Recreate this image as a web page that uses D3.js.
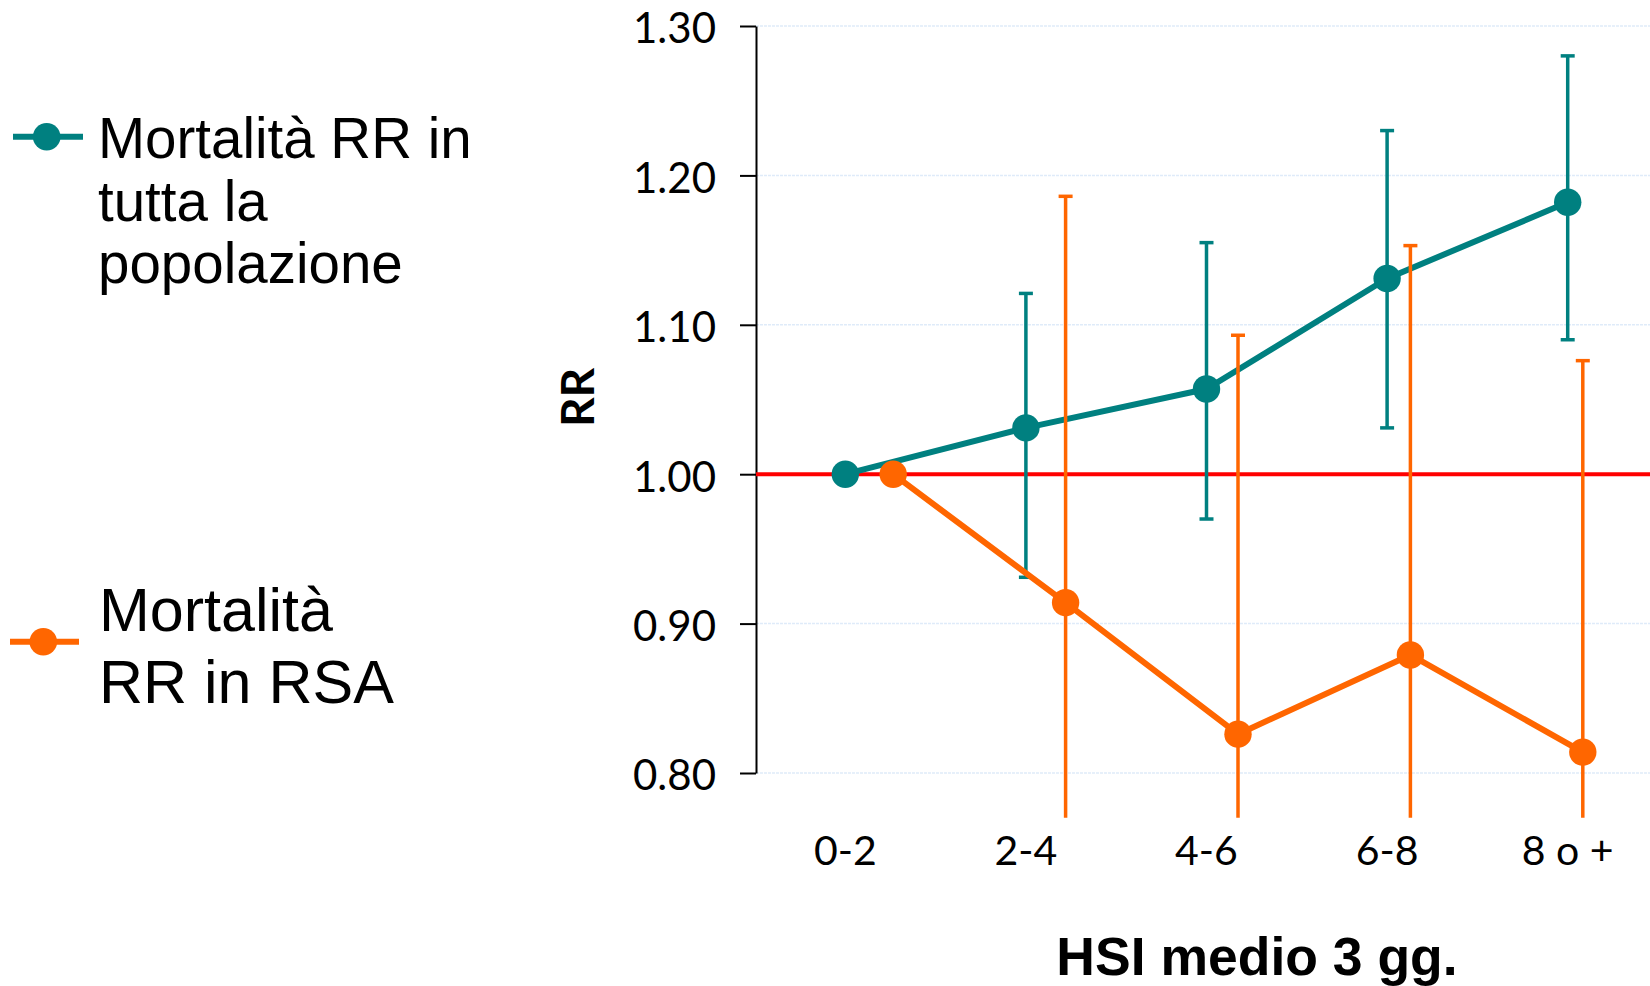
<!DOCTYPE html>
<html><head><meta charset="utf-8">
<script src="https://cdn.jsdelivr.net/npm/d3@7"></script>
<style>html,body{margin:0;padding:0;background:#fff;} svg{display:block;}</style>
</head><body>
<svg id="chart" width="1650" height="986"></svg>
<script>
const categories = ["0-2", "2-4", "4-6", "6-8", "8 o +"];
const yTicks = [0.80, 0.90, 1.00, 1.10, 1.20, 1.30];
const popRR   = [1.000, 1.031, 1.057, 1.131, 1.182];
const popLow  = [null, 0.931, 0.970, 1.031, 1.090];
const popHigh = [null, 1.121, 1.155, 1.230, 1.280];
const rsaRR   = [1.000, 0.914, 0.826, 0.879, 0.814];
const rsaLow  = [null, 0.704, 0.624, 0.671, 0.616];
const rsaHigh = [null, 1.186, 1.093, 1.153, 1.076];
const legendPop = ["Mortalità RR in", "tutta la", "popolazione"];
const legendRsa = ["Mortalità", "RR in RSA"];
const yTitle = "RR";
const xTitle = "HSI medio 3 gg.";
const refValue = 1.00;
const clipMin = 0.77;

const TEAL = "#008080", ORANGE = "#ff6600", RED = "#ff0000";
const svg = d3.select("#chart");
const y = d3.scaleLinear().domain([0.80, 1.30]).range([773, 26]);
const xPop = d3.scaleBand().domain(categories).range([755, 1658]);
const xRsa = d3.scaleBand().domain(categories).range([807, 1669]);
const cx = (s, c) => s(c) + s.bandwidth() / 2;
const axisX = 756;

svg.append("defs").append("clipPath").attr("id", "plotclip")
  .append("rect").attr("x", axisX).attr("y", 0).attr("width", 1650 - axisX).attr("height", y(clipMin));

// gridlines
svg.append("g").selectAll("line").data(yTicks).join("line")
  .attr("x1", axisX).attr("x2", 1650)
  .attr("y1", d => y(d)).attr("y2", d => y(d))
  .attr("stroke", "#dfebf9").attr("stroke-width", 1.5).attr("stroke-dasharray", "3,1");

// y axis
const yAxis = svg.append("g").attr("transform", `translate(${axisX},0)`)
  .call(d3.axisLeft(y).tickValues(yTicks).tickFormat(d3.format(".2f")).tickSize(16).tickSizeOuter(0).tickPadding(24));
yAxis.select(".domain").attr("stroke", "#000").attr("stroke-width", 2);
yAxis.selectAll(".tick line").attr("stroke", "#000").attr("stroke-width", 2);
yAxis.selectAll(".tick text").attr("font-family", "Lato, 'Open Sans', sans-serif")
  .attr("font-size", 42).attr("fill", "#000").attr("dy", "0.4em");

// reference line
svg.append("line").attr("x1", axisX).attr("x2", 1650)
  .attr("y1", y(refValue)).attr("y2", y(refValue))
  .attr("stroke", RED).attr("stroke-width", 4);

function drawSeries(xs, vals, lows, highs, color) {
  const g = svg.append("g").attr("clip-path", "url(#plotclip)");
  const pts = categories.map((c, i) => ({c, v: vals[i], lo: lows[i], hi: highs[i]}));
  g.append("path").datum(pts)
    .attr("d", d3.line().x(d => cx(xs, d.c)).y(d => y(d.v)))
    .attr("fill", "none").attr("stroke", color).attr("stroke-width", 6).attr("stroke-linejoin", "round");
  const eb = pts.filter(d => d.lo != null);
  g.selectAll(".eb").data(eb).join("line")
    .attr("x1", d => cx(xs, d.c)).attr("x2", d => cx(xs, d.c))
    .attr("y1", d => y(d.lo)).attr("y2", d => y(d.hi))
    .attr("stroke", color).attr("stroke-width", 3.5);
  ["lo", "hi"].forEach(k => {
    g.selectAll(".cap" + k).data(eb).join("line")
      .attr("x1", d => cx(xs, d.c) - 7).attr("x2", d => cx(xs, d.c) + 7)
      .attr("y1", d => y(d[k])).attr("y2", d => y(d[k]))
      .attr("stroke", color).attr("stroke-width", 3.5);
  });
  g.selectAll("circle").data(pts).join("circle")
    .attr("cx", d => cx(xs, d.c)).attr("cy", d => y(d.v)).attr("r", 13.7)
    .attr("fill", color);
}
drawSeries(xPop, popRR, popLow, popHigh, TEAL);
drawSeries(xRsa, rsaRR, rsaLow, rsaHigh, ORANGE);

// x labels
svg.append("g").selectAll("text").data(categories).join("text")
  .attr("x", d => cx(xPop, d)).attr("y", 865)
  .attr("text-anchor", "middle")
  .attr("font-family", "Lato, 'Open Sans', sans-serif").attr("font-size", 41).attr("fill", "#000")
  .text(d => d);

// axis titles
svg.append("text").attr("transform", "translate(594,397.5) rotate(-90)")
  .attr("text-anchor", "middle").attr("font-family", "Lato, 'Open Sans', sans-serif")
  .attr("font-weight", "bold").attr("font-size", 46).text(yTitle);
svg.append("text").attr("x", 1257).attr("y", 975).attr("text-anchor", "middle")
  .attr("font-family", "'Liberation Sans', Arial, sans-serif").attr("font-weight", "bold")
  .attr("font-size", 53.5).text(xTitle);

// legend
function legendItem(color, lx1, lx2, ly, mx, lines, tx, baselines, fs) {
  const g = svg.append("g");
  g.append("line").attr("x1", lx1).attr("x2", lx2).attr("y1", ly).attr("y2", ly)
    .attr("stroke", color).attr("stroke-width", 6);
  g.append("circle").attr("cx", mx).attr("cy", ly).attr("r", 13.8).attr("fill", color);
  g.selectAll("text").data(lines).join("text")
    .attr("x", tx).attr("y", (d, i) => baselines[i])
    .attr("font-family", "'Liberation Sans', Arial, sans-serif").attr("font-size", fs).attr("fill", "#000")
    .text(d => d);
}
legendItem(TEAL, 13, 83, 136.7, 46.7, legendPop, 98, [158, 221, 283], 56.5);
legendItem(ORANGE, 10, 79, 641.7, 43.3, legendRsa, 99, [631, 703], 61);
</script>
</body></html>
